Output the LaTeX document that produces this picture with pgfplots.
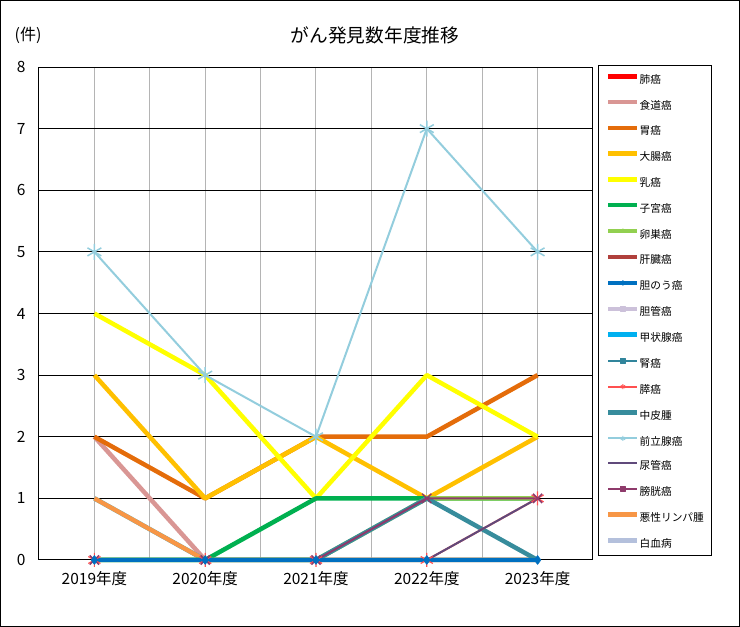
\documentclass[border=0pt]{standalone}
\usepackage{pgfplots}
\pgfplotsset{compat=1.18}
\usepackage{fontspec}
\setmainfont{Noto Sans CJK JP}
\definecolor{cA}{HTML}{FF0000}
\definecolor{cB}{HTML}{D99694}
\definecolor{cC}{HTML}{E46C0A}
\definecolor{cD}{HTML}{FFC000}
\definecolor{cE}{HTML}{FFFF00}
\definecolor{cF}{HTML}{00B050}
\definecolor{cG}{HTML}{92D050}
\definecolor{cH}{HTML}{B0403C}
\definecolor{cI}{HTML}{0070C0}
\definecolor{cJ}{HTML}{CCC1DA}
\definecolor{cK}{HTML}{00B0F0}
\definecolor{cL}{HTML}{31859C}
\definecolor{cM}{HTML}{FF5050}
\definecolor{cN}{HTML}{378C9C}
\definecolor{cO}{HTML}{93CDDD}
\definecolor{cP}{HTML}{604A7B}
\definecolor{cQ}{HTML}{8E3A6B}
\definecolor{cR}{HTML}{F79646}
\definecolor{cS}{HTML}{B4C0DC}
\definecolor{gridgray}{HTML}{B4B4B4}
\begin{document}
\begin{tikzpicture}[x=1pt,y=1pt]
\draw[line width=1pt] (0.5,0.5) rectangle (739.5,626.5);
\begin{axis}[at={(39pt,67pt)}, anchor=south west, scale only axis,
 width=554pt, height=493pt,
 xmin=-0.5, xmax=4.5, ymin=0, ymax=8,
 xtick={0,1,2,3,4},
 xticklabels={2019年度,2020年度,2021年度,2022年度,2023年度},
 minor xtick={-0.5,0.5,1.5,2.5,3.5,4.5},
 ytick={0,1,2,3,4,5,6,7,8},
 xmajorgrids, xminorgrids, ymajorgrids,
 major x grid style={draw=gridgray, line width=1pt},
 minor x grid style={draw=gridgray, line width=1pt},
 major y grid style={draw=black, line width=1pt},
 axis line style={line width=1pt},
 major tick length=0pt, minor tick length=0pt,
 tick label style={font=\fontsize{15.5}{18}\selectfont},
 /pgf/number format/assume math mode=true,
 yticklabel style={xshift=-10pt},
 xticklabel style={yshift=-8pt},
 clip=false,
 legend style={at={(1,1)}, anchor=north west, xshift=13pt, yshift=-7pt,
   draw=none, fill=none, inner sep=0pt, row sep=14.5pt, column sep=0pt,
   font=\fontsize{10.7}{12}\selectfont,
   nodes={inner sep=0pt, text height=8pt, text depth=2pt, anchor=west}},
 legend cell align=left,
 legend image code/.code={\draw[mark repeat=2,mark phase=2,mark size=2.5pt,#1] plot coordinates {(0pt,4pt)(14.5pt,4pt)(29pt,4pt)};},
 every axis plot/.append style={line join=round, forget plot},
 thickl/.style={line width=4.5pt},
 thinl/.style={line width=2pt},
]
% ---- data, in drawing order (bottom to top) ----
\addplot[cS, thickl, mark=none] coordinates {(0,0)(1,0)(2,0)(3,0)(4,0)};   % 白血病
\addplot[cJ, thickl, mark=none] coordinates {(0,0)(1,0)(2,0)(3,0)(4,0)};   % 胆管癌
\addplot[cA, thickl, mark=none] coordinates {(0,0)(1,0)(2,0)(3,0)(4,0)};   % 肺癌
\addplot[cH, thickl, mark=none] coordinates {(0,0)(1,0)(2,0)(3,0)(4,0)};   % 肝臓癌
\addplot[cL, thinl, mark=none] coordinates {(0,0)(1,0)(2,0)(3,0)(4,0)};    % 腎癌
\addplot[cB, thickl, mark=none] coordinates {(0,2)(1,0)(2,0)(3,0)(4,0)};   % 食道癌
\addplot[cK, thickl, mark=none] coordinates {(0,1)(1,0)(2,0)(3,0)(4,0)};   % 甲状腺癌
\addplot[cR, thickl, mark=none] coordinates {(0,1)(1,0)(2,0)(3,0)(4,0)};   % 悪性リンパ腫
\addplot[cC, thickl, mark=none] coordinates {(0,2)(1,1)(2,2)(3,2)(4,3)};   % 胃癌
\addplot[cD, thickl, mark=none] coordinates {(0,3)(1,1)(2,2)(3,1)(4,2)};   % 大腸癌
\addplot[cE, thickl, mark=none] coordinates {(0,4)(1,3)(2,1)(3,3)(4,2)};   % 乳癌
\addplot[cF, thickl, mark=none] coordinates {(0,0)(1,0)(2,1)(3,1)(4,1)};   % 子宮癌
\addplot[cG, thickl, mark=none] coordinates {(0,0)(1,0)(2,0)(3,1)(4,1)};   % 卵巣癌
\addplot[cN, thickl, mark=none] coordinates {(0,0)(1,0)(2,0)(3,1)(4,0)};   % 中皮腫
\addplot[cM, thinl, mark=asterisk, mark size=7pt, mark options={solid, line width=1.2pt}] coordinates {(0,0)(1,0)(2,0)(3,0)(4,1)}; % 膵癌
\addplot[cP, thinl, mark=none] coordinates {(0,0)(1,0)(2,0)(3,0)(4,1)};    % 尿管癌
\addplot[cQ, thinl, mark=x, mark size=6.5pt, mark options={solid, line width=1.5pt}] coordinates {(0,0)(1,0)(2,0)(3,1)(4,1)}; % 膀胱癌
\addplot[cI, thickl, mark=diamond*, mark size=4.5pt, mark options={solid, line width=0.5pt}] coordinates {(0,0)(1,0)(2,0)(3,0)(4,0)}; % 胆のう癌
\addplot[cO, thinl, mark=asterisk, mark size=8pt, mark options={solid, line width=1.5pt}] coordinates {(0,5)(1,3)(2,2)(3,7)(4,5)}; % 前立腺癌
% ---- legend, in series order ----
\addlegendimage{cA, thickl, mark=none}\addlegendentry{肺癌}
\addlegendimage{cB, thickl, mark=none}\addlegendentry{食道癌}
\addlegendimage{cC, thickl, mark=none}\addlegendentry{胃癌}
\addlegendimage{cD, thickl, mark=none}\addlegendentry{大腸癌}
\addlegendimage{cE, thickl, mark=none}\addlegendentry{乳癌}
\addlegendimage{cF, thickl, mark=none}\addlegendentry{子宮癌}
\addlegendimage{cG, thickl, mark=triangle*, mark options={solid, line width=0.5pt}}\addlegendentry{卵巣癌}
\addlegendimage{cH, thickl, mark=none}\addlegendentry{肝臓癌}
\addlegendimage{cI, thickl, mark=diamond*, mark options={solid, line width=0.5pt}}\addlegendentry{胆のう癌}
\addlegendimage{cJ, thickl, mark=square*, mark options={solid, line width=0.5pt}}\addlegendentry{胆管癌}
\addlegendimage{cK, thickl, mark=none}\addlegendentry{甲状腺癌}
\addlegendimage{cL, thinl, mark=square*, mark options={solid, line width=0.5pt}}\addlegendentry{腎癌}
\addlegendimage{cM, thinl, mark=asterisk, mark options={solid, line width=1pt}}\addlegendentry{膵癌}
\addlegendimage{cN, thickl, mark=none}\addlegendentry{中皮腫}
\addlegendimage{cO, thinl, mark=asterisk, mark options={solid, line width=1pt}}\addlegendentry{前立腺癌}
\addlegendimage{cP, thinl, mark=none}\addlegendentry{尿管癌}
\addlegendimage{cQ, thinl, mark=square*, mark options={solid, line width=0.5pt}}\addlegendentry{膀胱癌}
\addlegendimage{cR, thickl, mark=none}\addlegendentry{悪性リンパ腫}
\addlegendimage{cS, thickl, mark=none}\addlegendentry{白血病}
\end{axis}
\draw[line width=1pt] (598,71) rectangle (711,561);
\node[font=\fontsize{18.7}{22}\selectfont] at (375,592) {がん発見数年度推移};
\node[font=\fontsize{16}{18}\selectfont] at (28,592) {(件)};
\end{tikzpicture}
\end{document}
